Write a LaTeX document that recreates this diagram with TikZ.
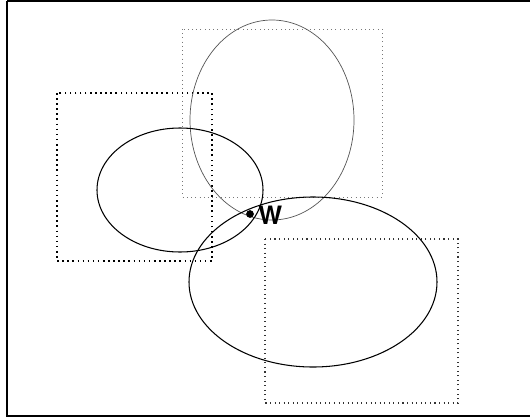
\documentclass[tikz,border=0pt]{standalone}
\usepackage{xcolor}
\usepackage{fontspec}
\setsansfont{TeX Gyre Heros}
\definecolor{mattgrau}{RGB}{120,120,120}

\begin{document}
\begin{tikzpicture}[x=0.02cm, y=-0.02cm]
    % Feste Bildgröße (Pixelraster der Vorlage)
    \useasboundingbox (0,0) rectangle (530,419);

    % Rahmen um die ganze Szene
    \draw[black, line width=1.2pt] (7,1) -- (531,1);
    \draw[black, line width=1.2pt] (7,1) -- (7,416) -- (531,416);

    % Gepunktete Rechtecke (Bereiche)
    \draw[mattgrau, thin, dotted] (182,29) rectangle (382,197);
    \draw[black, line width=0.9pt, dotted] (57,93) rectangle (212,261);
    \draw[black!80, semithick, dotted] (265,239) rectangle (458,403);

    % Ellipsen
    \draw[mattgrau!70!black, thin] (272,120) ellipse [x radius=82, y radius=100];
    \draw[black, semithick] (180,190) ellipse [x radius=83, y radius=62];
    \draw[black, semithick] (313,282) ellipse [x radius=124, y radius=85];

    % Schnittpunkt mit Beschriftung
    \fill[black] (250,214) circle (2.2pt);
    \node[font=\sffamily\bfseries\Large, inner sep=0pt, anchor=west] (w) at (258,215) {W};

\end{tikzpicture}
\end{document}
